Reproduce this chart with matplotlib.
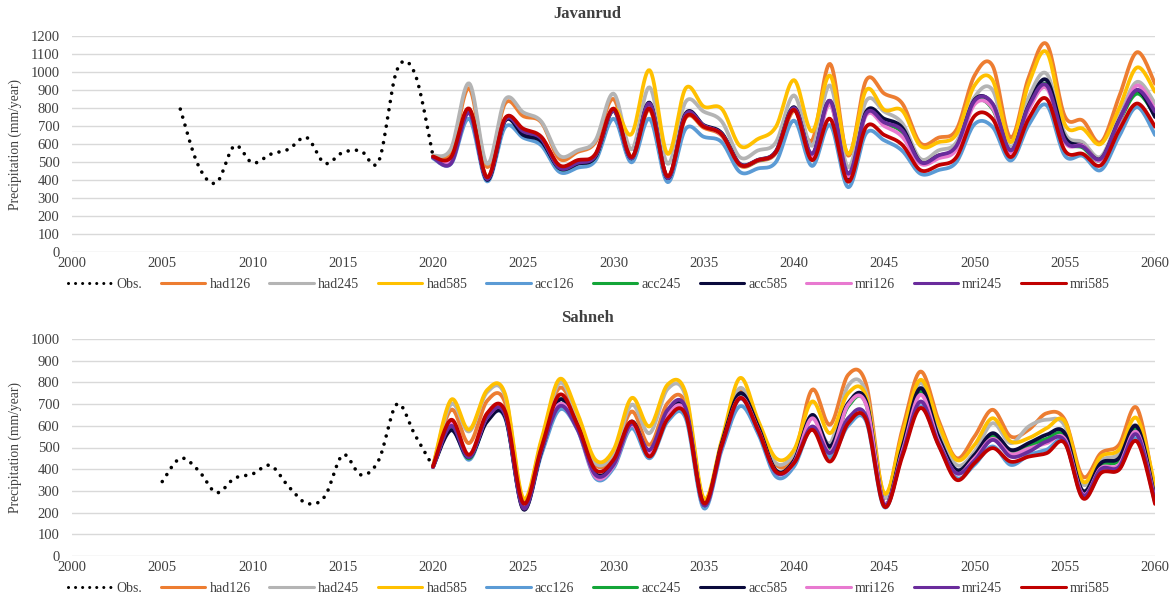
import numpy as np
import matplotlib
matplotlib.use("Agg")
import matplotlib.pyplot as plt

# ---- data (mm/year) ----
years_model = list(range(2020, 2061))

# Javanrud
jav_obs_years = list(range(2006, 2021))
jav_obs = [794, 480, 385, 590, 495, 543, 571, 636, 493, 553, 562, 506, 1010, 990, 532]

jav_had126 = [532, 555, 910, 472, 826, 755, 720, 518, 555, 610, 850, 525, 790, 415, 745, 690, 645, 480, 505, 550,
              785, 620, 1045, 535, 955, 880, 825, 605, 635, 680, 980, 1035, 635, 970, 1155, 755, 730, 610, 860, 1110, 935]
jav_had245 = [535, 575, 937, 490, 848, 776, 725, 536, 564, 620, 880, 570, 915, 490, 835, 780, 725, 527, 564, 610,
              870, 590, 925, 470, 840, 780, 715, 518, 564, 610, 860, 900, 580, 860, 990, 660, 610, 530, 750, 945, 825]
jav_had585 = [530, 525, 795, 415, 740, 680, 635, 478, 505, 540, 795, 655, 1010, 545, 910, 808, 795, 590, 628, 696,
              955, 670, 980, 545, 900, 790, 785, 590, 610, 655, 925, 955, 610, 935, 1110, 710, 685, 600, 795, 1025, 890]
jav_acc126 = [520, 490, 740, 392, 694, 635, 592, 445, 468, 508, 740, 498, 740, 388, 685, 640, 610, 445, 464, 500,
              730, 478, 705, 360, 660, 620, 562, 435, 455, 500, 710, 695, 508, 705, 815, 536, 534, 455, 640, 805, 650]
jav_acc245 = [527, 505, 785, 405, 735, 665, 625, 465, 492, 530, 785, 520, 820, 410, 760, 700, 655, 485, 508, 555,
              795, 535, 830, 405, 770, 715, 665, 495, 530, 580, 830, 795, 555, 800, 930, 625, 580, 512, 720, 880, 760]
jav_acc585 = [528, 505, 790, 400, 730, 650, 615, 465, 490, 530, 790, 520, 830, 410, 770, 705, 660, 490, 512, 560,
              805, 540, 840, 410, 780, 740, 690, 500, 536, 580, 845, 820, 560, 815, 955, 640, 590, 518, 730, 900, 750]
jav_mri126 = [527, 510, 780, 410, 740, 675, 635, 472, 500, 540, 790, 522, 815, 415, 755, 700, 650, 485, 510, 555,
              795, 530, 820, 420, 760, 700, 640, 490, 520, 570, 820, 800, 550, 790, 910, 610, 590, 510, 720, 925, 790]
jav_mri245 = [525, 492, 773, 405, 735, 670, 630, 468, 495, 535, 785, 520, 825, 410, 765, 700, 655, 488, 510, 558,
              800, 545, 840, 435, 770, 720, 675, 500, 536, 590, 840, 825, 564, 810, 925, 620, 585, 518, 730, 900, 780]
jav_mri585 = [530, 527, 797, 415, 745, 685, 640, 482, 510, 545, 797, 527, 797, 420, 750, 696, 652, 485, 510, 555,
              790, 510, 740, 390, 696, 650, 595, 455, 482, 527, 755, 740, 527, 740, 850, 564, 545, 482, 675, 825, 696]

# Sahneh
sah_obs_years = list(range(2005, 2021))
sah_obs = [343, 450, 395, 292, 358, 378, 417, 320, 243, 274, 466, 374, 443, 700, 558, 412]

sah_had126 = [412, 674, 520, 715, 705, 250, 510, 774, 630, 420, 460, 666, 512, 705, 700, 250, 520, 760, 600, 420,
              460, 766, 605, 835, 790, 280, 582, 850, 628, 451, 551, 674, 551, 582, 658, 628, 366, 474, 512, 682, 290]
sah_had245 = [412, 700, 574, 755, 735, 255, 525, 797, 645, 428, 475, 697, 566, 770, 735, 255, 525, 774, 610, 428,
              470, 650, 520, 785, 750, 270, 540, 797, 590, 420, 480, 612, 520, 597, 628, 600, 330, 440, 470, 600, 300]
sah_had585 = [412, 720, 582, 765, 745, 266, 535, 815, 658, 443, 489, 728, 597, 790, 750, 266, 535, 820, 628, 451,
              489, 712, 566, 750, 735, 289, 560, 812, 612, 443, 512, 635, 528, 543, 589, 620, 343, 458, 489, 635, 320]
sah_acc126 = [410, 590, 443, 628, 635, 220, 466, 674, 582, 358, 405, 589, 450, 620, 635, 220, 490, 690, 566, 366,
              412, 590, 455, 600, 620, 225, 470, 690, 515, 360, 420, 505, 420, 465, 490, 525, 270, 385, 400, 540, 245]
sah_acc245 = [410, 600, 450, 635, 650, 225, 490, 720, 600, 370, 420, 610, 470, 655, 665, 235, 510, 735, 590, 390,
              435, 640, 495, 690, 700, 235, 490, 760, 540, 390, 455, 550, 475, 505, 540, 550, 290, 415, 440, 580, 255]
sah_acc585 = [410, 580, 455, 620, 640, 215, 480, 720, 600, 380, 425, 620, 475, 660, 670, 235, 520, 750, 600, 395,
              440, 650, 505, 705, 712, 240, 500, 774, 551, 397, 466, 566, 489, 520, 559, 566, 300, 428, 451, 597, 265]
sah_mri126 = [410, 610, 460, 640, 655, 230, 490, 700, 590, 365, 415, 605, 470, 650, 660, 235, 505, 730, 585, 385,
              430, 635, 480, 697, 697, 240, 480, 743, 530, 380, 450, 540, 470, 495, 520, 540, 285, 405, 420, 570, 255]
sah_mri245 = [410, 600, 455, 640, 650, 220, 485, 690, 585, 374, 420, 610, 489, 674, 682, 235, 505, 725, 580, 385,
              430, 597, 474, 635, 643, 235, 470, 712, 520, 382, 440, 535, 458, 480, 528, 530, 280, 400, 410, 559, 250]
sah_mri585 = [412, 628, 466, 658, 666, 243, 497, 743, 605, 397, 443, 620, 458, 632, 650, 243, 512, 728, 582, 389,
              428, 582, 435, 612, 628, 228, 458, 682, 512, 351, 428, 497, 435, 458, 474, 520, 266, 382, 397, 528, 240]

labels = ["had126", "had245", "had585", "acc126", "acc245", "acc585", "mri126", "mri245", "mri585"]
colors = ["#ED7D31", "#B4B4B4", "#FFC000", "#5B9BD5", "#13A538", "#0A0A3C", "#E879D0", "#6A2C9C", "#C00000"]


def smooth(x, y, n=16):
    # excel style smoothed line (catmull-rom through the points)
    x = np.asarray(x, float)
    y = np.asarray(y, float)
    px = np.concatenate([[x[0]], x, [x[-1]]])
    py = np.concatenate([[y[0]], y, [y[-1]]])
    xs, ys = [], []
    t = np.linspace(0, 1, n, endpoint=False)
    for i in range(1, len(px) - 2):
        p0, p1, p2, p3 = py[i - 1], py[i], py[i + 1], py[i + 2]
        q0, q1, q2, q3 = px[i - 1], px[i], px[i + 1], px[i + 2]
        for a, b, c, d, out in ((q0, q1, q2, q3, xs), (p0, p1, p2, p3, ys)):
            out.extend(0.5 * (2 * b + (-a + c) * t + (2 * a - 5 * b + 4 * c - d) * t ** 2
                              + (-a + 3 * b - 3 * c + d) * t ** 3))
    xs.append(x[-1])
    ys.append(y[-1])
    return np.array(xs), np.array(ys)


def panel(ax, title, obs_years, obs, series, ymax, title_y, leg_y):
    sx, sy = smooth(obs_years, obs)
    ax.plot(sx, sy, color="black", lw=2.6, linestyle=(0, (0.01, 2.3)),
            dash_capstyle="round", label="Obs.", zorder=3)
    for lab, vals, col in zip(labels, series, colors):
        sx, sy = smooth(years_model, vals)
        ax.plot(sx, sy, color=col, lw=2.7, label=lab, solid_capstyle="round", zorder=2)

    ax.set_xlim(2000, 2060)
    ax.set_ylim(0, ymax)
    ax.set_xticks(range(2000, 2061, 5))
    ax.set_yticks(range(0, ymax + 1, 100))
    ax.grid(axis="y", color="#D9D9D9", lw=1.0)
    ax.set_axisbelow(True)
    for s in ax.spines.values():
        s.set_visible(False)
    ax.tick_params(length=0, labelsize=10.5, colors="#404040")
    ax.tick_params(axis="y", pad=9)
    ax.tick_params(axis="x", pad=3.5)
    for lbl in ax.get_xticklabels() + ax.get_yticklabels():
        lbl.set_family("Liberation Serif")
    ax.set_ylabel("Precipitation (mm/year)", family="Liberation Serif", fontsize=9.8, color="#404040")
    ax.yaxis.set_label_coords(-0.046, 0.5)
    fig.text(0.5, title_y, title, ha="center", va="center", family="Liberation Serif",
             fontsize=12, fontweight="bold", color="#404040")
    leg = ax.legend(loc="center", bbox_to_anchor=(0.501, leg_y), bbox_transform=fig.transFigure,
                    ncol=10, frameon=False, handlelength=3.2, handletextpad=0.3, columnspacing=1.35,
                    prop={"family": "Liberation Serif", "size": 10})
    for t in leg.get_texts():
        t.set_color("#404040")
    for h in leg.get_lines():
        h.set_linewidth(2.2)


fig = plt.figure(figsize=(11.75, 5.96), dpi=100)
left = 72 / 1175
width = 1083 / 1175
ax1 = fig.add_axes([left, (596 - 252) / 596, width, 216 / 596])
ax2 = fig.add_axes([left, (596 - 556) / 596, width, 217 / 596])

panel(ax1, "Javanrud", jav_obs_years, jav_obs,
      [jav_had126, jav_had245, jav_had585, jav_acc126, jav_acc245, jav_acc585, jav_mri126, jav_mri245, jav_mri585],
      1200, 0.977, (596 - 284) / 596)
panel(ax2, "Sahneh", sah_obs_years, sah_obs,
      [sah_had126, sah_had245, sah_had585, sah_acc126, sah_acc245, sah_acc585, sah_mri126, sah_mri245, sah_mri585],
      1000, 0.466, (596 - 588) / 596)

fig.savefig("out.png", dpi=100)
